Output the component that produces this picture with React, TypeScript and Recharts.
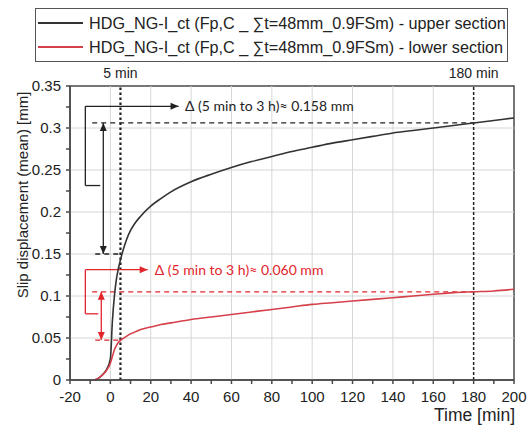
import {
  ComposedChart,
  Line,
  XAxis,
  YAxis,
  ReferenceLine,
  ReferenceDot,
  ReferenceArea,
} from 'recharts'

// time [min] and mean slip [mm]
const time = [-8, -6, -4, -2, 0, 1, 2, 3, 4, 5, 6, 8, 10, 12, 15, 20, 25, 30, 40, 50, 60, 70, 80, 90, 100, 110, 120, 130, 140, 150, 160, 170, 180, 190, 200]
const upperSection = [0, 0.002, 0.006, 0.012, 0.025, 0.07, 0.1, 0.12, 0.133, 0.143, 0.152, 0.167, 0.178, 0.186, 0.195, 0.207, 0.216, 0.224, 0.236, 0.245, 0.253, 0.26, 0.266, 0.272, 0.277, 0.282, 0.286, 0.29, 0.294, 0.297, 0.3, 0.303, 0.306, 0.309, 0.312]
const lowerSection = [0, 0.002, 0.006, 0.011, 0.02, 0.028, 0.036, 0.041, 0.045, 0.047, 0.049, 0.052, 0.055, 0.057, 0.06, 0.063, 0.066, 0.068, 0.072, 0.075, 0.078, 0.081, 0.084, 0.087, 0.09, 0.092, 0.094, 0.096, 0.098, 0.1, 0.102, 0.104, 0.105, 0.106, 0.108]

const xTicks = [-20, -10, 0, 10, 20, 30, 40, 50, 60, 70, 80, 90, 100, 110, 120, 130, 140, 150, 160, 170, 180, 190, 200]
const yTicks = [0, 0.025, 0.05, 0.075, 0.1, 0.125, 0.15, 0.175, 0.2, 0.225, 0.25, 0.275, 0.3, 0.325, 0.35]
const xGrid = [0, 20, 40, 60, 80, 100, 120, 140, 160]
const yGrid = [0.05, 0.1, 0.15, 0.2, 0.25, 0.3]

// annotation values: slip at 5 min and 3 h
const markTimes = [5, 180]
const upperDelta = [0.15, 0.306]
const lowerDelta = [0.0475, 0.105]
const upperLabel = 'Δ (5 min to 3 h)≈ 0.158 mm'
const lowerLabel = 'Δ (5 min to 3 h)≈ 0.060 mm'

const BLACK = '#222'
const RED = '#e3242b'
const AXIS = '#4a4a4a'
const TICK_FONT = '"Liberation Sans", Arial, sans-serif'
const NOTE_FONT = 'Lato, "Open Sans", sans-serif'

const data = time.map((t, i) => ({ t, upper: upperSection[i], lower: lowerSection[i] }))

function fmtX(v: number) {
  return v % 20 === 0 ? String(v) : ''
}

function fmtY(v: number) {
  const k = Math.round(v * 1000)
  return k % 50 === 0 ? String(k / 1000) : ''
}

function head(x: number, y: number, fx: number, fy: number, color: string) {
  const a = Math.atan2(y - fy, x - fx)
  const len = 8
  const w = 3.5
  const bx = x - len * Math.cos(a)
  const by = y - len * Math.sin(a)
  const px = -Math.sin(a) * w
  const py = Math.cos(a) * w
  return <polygon points={`${x},${y} ${bx + px},${by + py} ${bx - px},${by - py}`} fill={color} />
}

function arrow(color: string, ends: 'none' | 'end' | 'both', dash?: string) {
  return (p: any) => {
    const { x1, y1, x2, y2 } = p
    return (
      <g>
        <line x1={x1} y1={y1} x2={x2} y2={y2} stroke={color} strokeWidth={1.3} strokeDasharray={dash} />
        {ends !== 'none' && head(x2, y2, x1, y1, color)}
        {ends === 'both' && head(x1, y1, x2, y2, color)}
      </g>
    )
  }
}

function note(text: string, color: string) {
  return (p: any) => (
    <text x={p.cx} y={p.cy} dy={5} fill={color} fontSize={14} fontFamily={NOTE_FONT}>
      {text}
    </text>
  )
}

function LegendBox() {
  const rows = [
    { color: '#333', name: 'HDG_NG-I_ct (Fp,C _ ∑t=48mm_0.9FSm) - upper section' },
    { color: '#d6404b', name: 'HDG_NG-I_ct (Fp,C _ ∑t=48mm_0.9FSm) - lower section' },
  ]
  return (
    <div
      style={{
        position: 'absolute',
        left: 35,
        top: 8,
        width: 471,
        height: 52,
        border: '1px solid #555',
        background: '#fff',
        fontFamily: TICK_FONT,
        fontSize: 16.2,
        color: '#222',
      }}
    >
      {rows.map((r, i) => (
        <div key={i} style={{ display: 'flex', alignItems: 'center', height: 24, marginTop: i === 0 ? 2 : 0 }}>
          <div style={{ width: 45, height: 2, background: r.color, marginLeft: 2, marginRight: 6 }} />
          <span style={{ whiteSpace: 'nowrap' }}>{r.name}</span>
        </div>
      ))}
    </div>
  )
}

export default function App() {
  return (
    <div style={{ position: 'absolute', left: 0, top: 0, width: 528, height: 427, background: '#fff' }}>
      <ComposedChart width={528} height={427} data={data} margin={{ top: 86, right: 14, bottom: 17, left: 0 }}>
        <XAxis
          dataKey="t"
          type="number"
          domain={[-20, 200]}
          ticks={xTicks}
          interval={0}
          tickFormatter={fmtX}
          tick={{ fill: '#222', fontSize: 15, fontFamily: TICK_FONT }}
          tickSize={4}
          tickMargin={7}
          height={30}
          stroke={AXIS}
          strokeWidth={1.5}
        />
        <YAxis
          type="number"
          domain={[0, 0.35]}
          ticks={yTicks}
          interval={0}
          tickFormatter={fmtY}
          tick={{ fill: '#222', fontSize: 15, fontFamily: TICK_FONT }}
          tickSize={4}
          tickMargin={5}
          width={70}
          stroke={AXIS}
          strokeWidth={1.5}
          label={() => {
            const cx = 22
            const cy = 195
            return (
              <text
                x={cx}
                y={cy}
                transform={`rotate(-90, ${cx}, ${cy})`}
                textAnchor="middle"
                dominantBaseline="central"
                fill="#222"
                fontSize={15}
                fontFamily={TICK_FONT}
              >
                Slip displacement (mean) [mm]
              </text>
            )
          }}
        />
        {xGrid.map((v) => (
          <ReferenceLine key={`gx${v}`} x={v} stroke="#d6d6d6" strokeWidth={1} />
        ))}
        {yGrid.map((v) => (
          <ReferenceLine key={`gy${v}`} y={v} stroke="#d6d6d6" strokeWidth={1} />
        ))}
        <ReferenceArea x1={-20} x2={200} y1={0} y2={0.35} fill="none" stroke={AXIS} strokeWidth={1.5} />

        <ReferenceLine
          x={markTimes[0]}
          stroke={BLACK}
          strokeWidth={2.2}
          strokeDasharray="2.5 2.5"
          label={{ value: '5 min', position: 'top', offset: 8, fill: '#222', fontSize: 14, fontFamily: TICK_FONT }}
        />
        <ReferenceLine
          x={markTimes[1]}
          stroke={BLACK}
          strokeWidth={1.5}
          strokeDasharray="3 2"
          label={{ value: '180 min', position: 'top', offset: 8, fill: '#222', fontSize: 14, fontFamily: TICK_FONT }}
        />

        {/* upper section delta */}
        <ReferenceLine segment={[{ x: -9, y: upperDelta[1] }, { x: markTimes[1], y: upperDelta[1] }]} shape={arrow(BLACK, 'none', '5 4')} />
        <ReferenceLine segment={[{ x: -7.5, y: upperDelta[0] }, { x: markTimes[0], y: upperDelta[0] }]} shape={arrow(BLACK, 'none', '5 4')} />
        <ReferenceLine segment={[{ x: -3.5, y: upperDelta[0] }, { x: -3.5, y: upperDelta[1] }]} shape={arrow(BLACK, 'both')} />
        <ReferenceLine segment={[{ x: -12.4, y: 0.2315 }, { x: -5, y: 0.2315 }]} shape={arrow(BLACK, 'none')} />
        <ReferenceLine segment={[{ x: -12.4, y: 0.2315 }, { x: -12.4, y: 0.3258 }]} shape={arrow(BLACK, 'none')} />
        <ReferenceLine segment={[{ x: -12.4, y: 0.3258 }, { x: 33.8, y: 0.3258 }]} shape={arrow(BLACK, 'end')} />
        <ReferenceDot x={37} y={0.3258} shape={note(upperLabel, '#222')} />

        {/* lower section delta */}
        <ReferenceLine segment={[{ x: -9, y: lowerDelta[1] }, { x: markTimes[1], y: lowerDelta[1] }]} shape={arrow(RED, 'none', '5 4')} />
        <ReferenceLine segment={[{ x: -7.5, y: lowerDelta[0] }, { x: markTimes[0], y: lowerDelta[0] }]} shape={arrow(RED, 'none', '5 4')} />
        <ReferenceLine segment={[{ x: -4.5, y: lowerDelta[0] }, { x: -4.5, y: lowerDelta[1] }]} shape={arrow(RED, 'both')} />
        <ReferenceLine segment={[{ x: -12.4, y: 0.0788 }, { x: -6, y: 0.0788 }]} shape={arrow(RED, 'none')} />
        <ReferenceLine segment={[{ x: -12.4, y: 0.0788 }, { x: -12.4, y: 0.1313 }]} shape={arrow(RED, 'none')} />
        <ReferenceLine segment={[{ x: -12.4, y: 0.1313 }, { x: 18.5, y: 0.1313 }]} shape={arrow(RED, 'end')} />
        <ReferenceDot x={22} y={0.1313} shape={note(lowerLabel, RED)} />

        <Line dataKey="upper" type="monotone" stroke="#333" strokeWidth={1.6} dot={false} isAnimationActive={false} />
        <Line dataKey="lower" type="monotone" stroke="#d6404b" strokeWidth={1.6} dot={false} isAnimationActive={false} />
      </ComposedChart>
      <LegendBox />
      <div
        style={{
          position: 'absolute',
          right: 13,
          top: 405,
          fontFamily: TICK_FONT,
          fontSize: 17.5,
          lineHeight: '20px',
          color: '#222',
          whiteSpace: 'nowrap',
        }}
      >
        Time [min]
      </div>
    </div>
  )
}
